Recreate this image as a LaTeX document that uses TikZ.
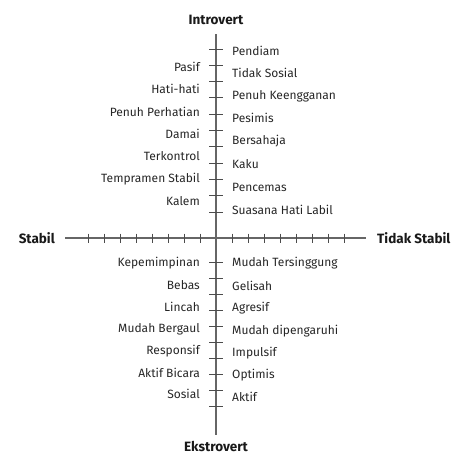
\documentclass[tikz,border=0pt]{standalone}
\usepackage{fontspec}
\setmainfont{Fira Sans}
\usetikzlibrary{positioning}
\tikzset{%
  trait/.style   = {font=\fontsize{12}{14}\selectfont, text=black!85, inner sep=0pt}, % trait label
  traitL/.style  = {trait, anchor=east},
  traitR/.style  = {trait, anchor=west},
  pole/.style    = {font=\bfseries\fontsize{13.5}{16}\selectfont, text=black!90, inner sep=0pt}, % axis title
  axis/.style    = {draw=black!60, line width=1.1pt},
  tickmark/.style= {draw=black!70, line width=0.9pt}
}

\begin{document}
\begin{tikzpicture}[x=1pt, y=-1pt]
  \useasboundingbox (0,0) rectangle (459,456);

  % axis titles
  \node at (216,20) [pole] (intro) {Introvert};
  \node at (216,446) [pole] (ekstro) {Ekstrovert};
  \node at (55,238) [pole, anchor=east] (stabil) {Stabil};
  \node at (377,238) [pole, anchor=west] (tdkstabil) {Tidak Stabil};

  \coordinate (ytop) at (216,34);
  \coordinate (ybot) at (216,435);
  \coordinate (xleft) at (65,238);
  \coordinate (xright) at (366,238);

  \draw[axis] (xleft) -- (xright);
  \draw[axis] (ytop) -- (ybot);

  % ticks
  \foreach \x in {88,104,...,200}
    \draw[tickmark] (\x,233.5) -- (\x,242.5);
  \foreach \x in {232,248,...,344}
    \draw[tickmark] (\x,233.5) -- (\x,242.5);
  \foreach \y in {49,65.3,...,213}
    \draw[tickmark] (209,\y) -- (223,\y);
  \foreach \y in {262,278.1,...,408}
    \draw[tickmark] (209,\y) -- (223,\y);

  % introvert - stabil
  \foreach \y/\t [count=\i] in {67/Pasif, 89/Hati-hati, 112/Penuh Perhatian, 134/Damai,
      156/Terkontrol, 179/Tempramen Stabil, 201/Kalem}
    \node at (200,\y) [traitL] (is\i) {\t};

  % introvert - tidak stabil
  \foreach \y/\t [count=\i] in {51/Pendiam, 73/Tidak Sosial, 96/Penuh Keengganan, 118/Pesimis,
      141/Bersahaja, 164/Kaku, 187/Pencemas, 210/Suasana Hati Labil}
    \node at (232,\y) [traitR] (it\i) {\t};

  % ekstrovert - stabil
  \foreach \y/\t [count=\i] in {263/Kepemimpinan, 285/Bebas, 307/Lincah, 329/Mudah Bergaul,
      351/Responsif, 373/Aktif Bicara, 394/Sosial}
    \node at (200,\y) [traitL] (es\i) {\t};

  % ekstrovert - tidak stabil
  \foreach \y/\t [count=\i] in {263/Mudah Tersinggung, 286/Gelisah, 308/Agresif, 331/Mudah dipengaruhi,
      353/Impulsif, 375/Optimis, 397/Aktif}
    \node at (232,\y) [traitR] (et\i) {\t};

\end{tikzpicture}
\end{document}
